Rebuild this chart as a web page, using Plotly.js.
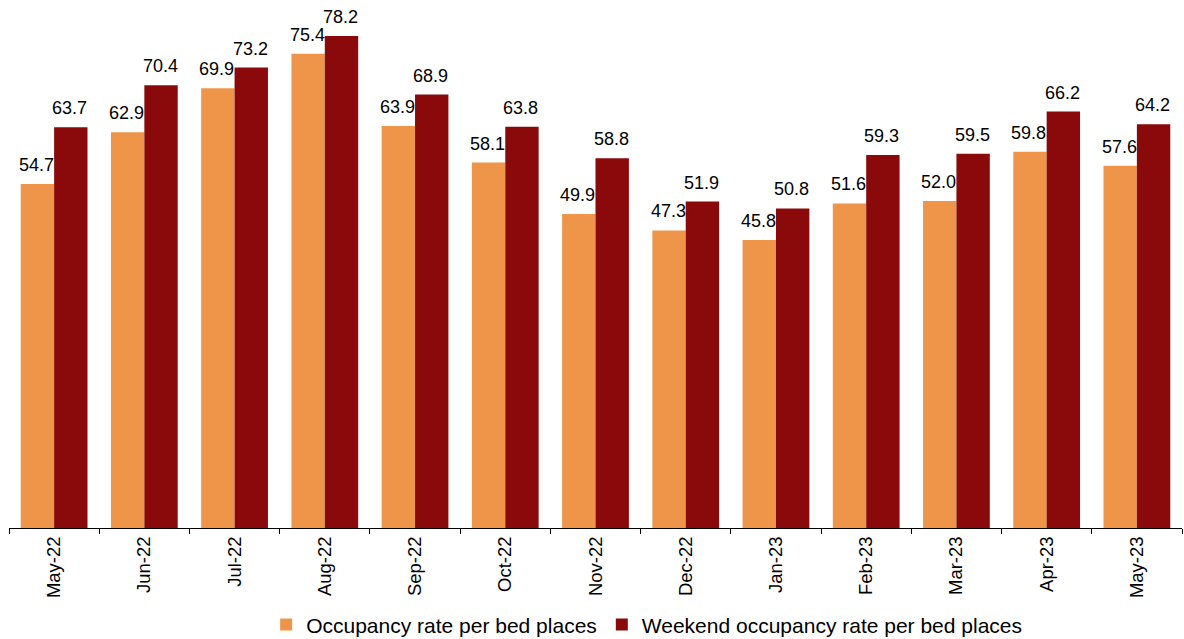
<!DOCTYPE html>
<html><head><meta charset="utf-8">
<script src="https://cdn.plot.ly/plotly-3.0.1.min.js"></script>
<style>html,body{margin:0;padding:0;background:#fff}#chart{width:1184px;height:639px}</style>
</head><body><div id="chart"></div>
<script>
const months = ["May-22","Jun-22","Jul-22","Aug-22","Sep-22","Oct-22","Nov-22","Dec-22","Jan-23","Feb-23","Mar-23","Apr-23","May-23"];
const occupancy = [54.7,62.9,69.9,75.4,63.9,58.1,49.9,47.3,45.8,51.6,52.0,59.8,57.6];
const weekend = [63.7,70.4,73.2,78.2,68.9,63.8,58.8,51.9,50.8,59.3,59.5,66.2,64.2];
const seriesNames = ["Occupancy rate per bed places","Weekend occupancy rate per bed places"];

const fam = "Liberation Sans, Arial, sans-serif";
const labelFont = {family:fam, size:18, color:"#000"};
const mk = (y, name, color) => ({
  type:"bar", x:months, y:y, name:name,
  marker:{color:color}, hoverinfo:"skip"
});
const data = [mk(occupancy, seriesNames[0], "#EE9549"), mk(weekend, seriesNames[1], "#8A0A0B")];

const W = 1184, L = 9, R = 2;
const catW = (W - L - R) / months.length;
const bargap = 0.26;
const half = catW * (1 - bargap) / 4;
const annotations = [];
[[occupancy,-half],[weekend,half]].forEach(([arr, dx]) => {
  arr.forEach((v, i) => annotations.push({
    x: months[i], y: v, xref:"x", yref:"y", text: v.toFixed(1), showarrow:false,
    xshift: dx - 1, yshift: 7, yanchor:"bottom", font: labelFont
  }));
});

const layout = {
  width:W, height:639,
  margin:{l:L, r:R, t:10, b:111, autoexpand:false},
  barmode:"group", bargap:bargap, bargroupgap:0,
  paper_bgcolor:"#fff", plot_bgcolor:"#fff",
  font:labelFont,
  xaxis:{type:"category", tickangle:-90, tickson:"boundaries", ticks:"outside", ticklen:5, tickcolor:"#000",
         showline:true, linecolor:"#000", linewidth:1, automargin:false,
         tickfont:{family:fam, size:18.5, color:"#000"}, showgrid:false},
  yaxis:{range:[0,82.35], visible:false, showgrid:false, zeroline:false, fixedrange:true},
  annotations: annotations,
  showlegend:true,
  legend:{orientation:"h", x:0.5436, xanchor:"center", y:-0.187, yanchor:"middle",
          font:{family:fam, size:21, color:"#000"}, itemwidth:30, traceorder:"normal"}
};
Plotly.newPlot("chart", data, layout, {staticPlot:true, displayModeBar:false});
</script></body></html>
